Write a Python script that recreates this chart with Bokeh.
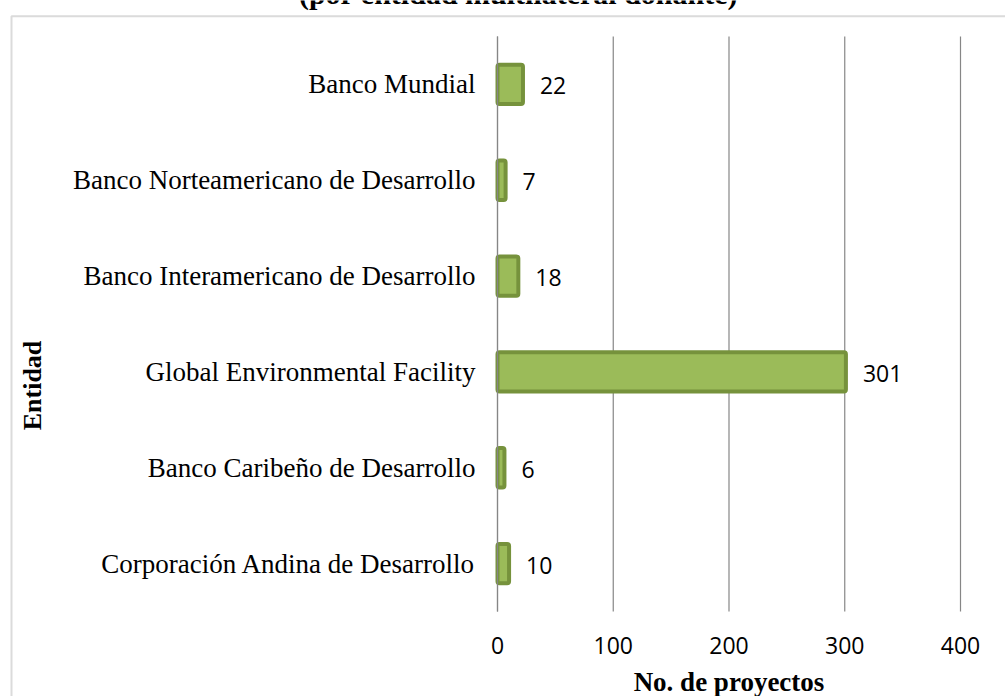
import math
from bokeh.plotting import figure
from bokeh.models import (ColumnDataSource, Range1d, FixedTicker, Label,
                          LabelSet, BoxAnnotation)
from bokeh.core.properties import value
from bokeh.embed import file_html
from bokeh.resources import INLINE

# Projects per multilateral donor (top to bottom as displayed)
entidades = [
    "Banco Mundial",
    "Banco Norteamericano de Desarrollo",
    "Banco Interamericano de Desarrollo",
    "Global Environmental Facility",
    "Banco Caribeño de Desarrollo",
    "Corporación Andina de Desarrollo",
]
proyectos = [22, 7, 18, 301, 6, 10]
x_ticks = [0, 100, 200, 300, 400]

# Canvas and plot-area geometry (pixels from the top-left corner)
W, H = 1005, 696
AREA_LEFT, AREA_RIGHT = 497, 960
AREA_TOP, AREA_BOTTOM = 36, 611

n = len(entidades)
posiciones = list(range(n - 1, -1, -1))      # first entry drawn on top
px_per_unit = (AREA_RIGHT - AREA_LEFT) / x_ticks[-1]
band = (AREA_BOTTOM - AREA_TOP) / n
y_lo = -0.5 - (H - AREA_BOTTOM) / band

source = ColumnDataSource(dict(
    pos=posiciones,
    proyectos=proyectos,
    etiqueta=[str(v) for v in proyectos],
))

# The frame fills the whole canvas; axes sit at fixed data locations.
p = figure(
    width=W, height=H,
    x_range=Range1d(-AREA_LEFT / px_per_unit, (W - AREA_LEFT) / px_per_unit),
    y_range=Range1d(y_lo, y_lo + H / band),
    output_backend="svg", toolbar_location=None,
    min_border=0, min_border_left=0, min_border_right=0,
    min_border_top=0, min_border_bottom=0,
)
p.outline_line_color = None
p.background_fill_color = "white"
p.border_fill_color = "white"
p.grid.visible = False

# Vertical gridlines over the category bands
p.segment(x0=x_ticks, y0=[-0.5] * len(x_ticks), x1=x_ticks,
          y1=[n - 0.5] * len(x_ticks), line_color="#868686", line_width=1.2)

p.hbar(y="pos", left=0, right="proyectos", height=0.41, source=source,
       fill_color="#9BBB59", line_color="#76923C", line_width=4,
       border_radius=2)

p.add_layout(LabelSet(x="proyectos", y="pos", text="etiqueta", source=source,
                      x_offset=17, y_offset=-1.5, text_align="left",
                      text_baseline="middle", text_font=value("Open Sans"),
                      text_font_size="23px", text_color="black"))

# Value axis
xa = p.xaxis[0]
xa.fixed_location = -0.5
xa.bounds = (x_ticks[0], x_ticks[-1])
xa.ticker = FixedTicker(ticks=x_ticks)
xa.axis_line_color = None
xa.major_tick_line_color = None
xa.minor_tick_line_color = None
xa.major_tick_out = 0
xa.major_tick_in = 0
xa.major_label_text_font = "Open Sans"
xa.major_label_text_font_size = "23px"
xa.major_label_text_color = "black"
xa.major_label_standoff = 25
xa.axis_label = "No. de proyectos"
xa.axis_label_text_font = "Liberation Serif"
xa.axis_label_text_font_style = "bold"
xa.axis_label_text_font_size = "27px"
xa.axis_label_text_color = "black"
xa.axis_label_standoff = 10

# Category axis
ya = p.yaxis[0]
ya.fixed_location = 0
ya.bounds = (-0.5, n - 0.5)
ya.ticker = FixedTicker(ticks=posiciones)
ya.major_label_overrides = {pos: name for pos, name in zip(posiciones, entidades)}
ya.axis_line_color = "#868686"
ya.axis_line_width = 1.2
ya.major_tick_line_color = None
ya.minor_tick_line_color = None
ya.major_tick_out = 0
ya.major_tick_in = 0
ya.major_label_text_font = "Liberation Serif"
ya.major_label_text_font_size = "27px"
ya.major_label_text_color = "black"
ya.major_label_standoff = 22

# Chart title (partly above the canvas) and vertical axis title
p.add_layout(Label(x=518, y=H + 7, x_units="screen", y_units="screen",
                   text="(por entidad multilateral donante)",
                   text_font="Liberation Serif", text_font_style="bold",
                   text_font_size="30px", text_align="center",
                   text_baseline="alphabetic", text_color="black"))
p.add_layout(Label(x=32, y=H - 385, x_units="screen", y_units="screen",
                   text="Entidad", angle=math.pi / 2,
                   text_font="Liberation Serif", text_font_style="bold",
                   text_font_size="26px", text_align="center",
                   text_baseline="alphabetic", text_color="black"))

# Chart area frame
p.add_layout(BoxAnnotation(left=11, right=W + 50, top=H - 15.8, bottom=-50,
                           left_units="screen", right_units="screen",
                           top_units="screen", bottom_units="screen",
                           fill_alpha=0, line_color="#878787", line_width=2))

open("out.html", "w").write(file_html(p, INLINE))
